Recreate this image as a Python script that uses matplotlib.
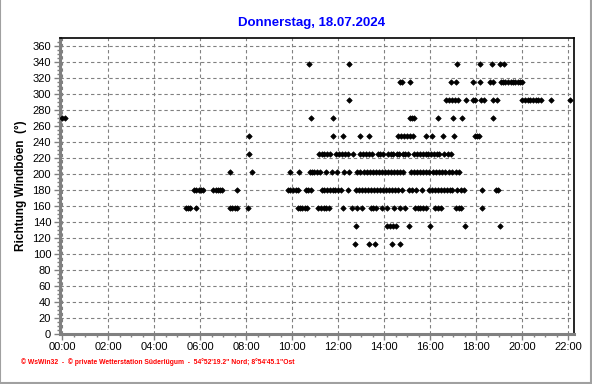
import numpy as np
import matplotlib
matplotlib.use("Agg")
from matplotlib import pyplot as plt
from matplotlib.patches import Rectangle

plt.rcParams['font.family'] = ['Liberation Sans', 'DejaVu Sans']

title = "Donnerstag, 18.07.2024"
ylabel = "Richtung Windböen  (°)"
footer = "© WsWin32  -  © private Wetterstation Süderlügum  -  54°52'19.2\" Nord; 8°54'45.1\"Ost"

x_ticks = ["00:00", "02:00", "04:00", "06:00", "08:00", "10:00",
           "12:00", "14:00", "16:00", "18:00", "20:00", "22:00"]
y_ticks = list(range(0, 361, 20))

# times of gusts per direction (degrees)
t_1125 = ["12:43", "13:19", "13:37", "14:21", "14:40"]
t_1350 = ["12:45", "14:08", "14:15", "14:22", "14:30", "15:05", "15:59", "17:30", "19:03"]
t_1575 = ["05:23", "05:28", "05:33", "05:48", "07:17", "07:23", "07:30", "07:37", "08:04",
          "10:14", "10:20", "10:26", "10:32", "10:38", "11:08", "11:15", "11:22", "11:29", "11:36",
          "12:12", "12:36", "12:49", "13:01", "13:25", "13:31", "13:38", "13:54", "14:08",
          "14:25", "14:40", "14:53", "15:20", "15:27", "15:34", "15:41", "15:48",
          "16:12", "16:20", "16:27", "17:08", "17:14", "17:19", "18:16"]
t_1800 = ["05:44", "05:50", "05:56", "06:02", "06:08", "06:34", "06:40", "06:46", "06:52", "06:56",
          "07:35", "09:48", "09:55", "10:02", "10:09", "10:14", "10:35", "10:42", "10:48",
          "11:17", "11:24", "11:31", "11:38", "11:45", "11:52", "12:00", "12:07", "12:25",
          "12:45", "12:53", "13:01", "13:09", "13:17", "13:25", "13:33", "13:41", "13:49",
          "13:57", "14:05", "14:13", "14:21", "14:29", "14:37", "14:45",
          "15:05", "15:12", "15:22", "15:38", "15:56", "16:04", "16:12", "16:20", "16:28",
          "16:36", "16:44", "16:52", "16:58", "17:11", "17:19", "17:27", "18:16", "18:51", "18:58"]
t_2025 = ["07:18", "08:14", "09:54", "10:17", "10:45", "10:52", "10:58", "11:05", "11:12",
          "11:27", "11:43", "11:58", "12:16", "12:29",
          "12:50", "12:58", "13:06", "13:14", "13:22", "13:30", "13:38", "13:46", "13:54",
          "14:02", "14:10", "14:18", "14:26", "14:34", "14:42", "14:50",
          "15:10", "15:18", "15:26", "15:34", "15:42", "15:50", "15:58", "16:06", "16:14",
          "16:22", "16:30", "16:38", "16:48", "16:58", "17:07", "17:16"]
t_2250 = ["08:08", "11:10", "11:17", "11:24", "11:31", "11:38", "11:55", "12:02", "12:10",
          "12:18", "12:26", "12:38", "12:57", "13:05", "13:13", "13:21", "13:27",
          "13:43", "13:50", "13:57", "14:10", "14:17", "14:24", "14:32", "14:39",
          "14:48", "14:55", "15:02", "15:18", "15:26", "15:34", "15:42", "15:48",
          "15:54", "16:02", "16:10", "16:17", "16:23", "16:37", "16:45", "16:53"]
t_2475 = ["08:08", "11:45", "12:12", "12:58", "13:20", "14:37", "14:44", "14:52", "15:00",
          "15:08", "15:14", "15:50", "16:05", "16:32", "17:02", "17:58", "18:03", "18:08"]
t_2700 = ["00:00", "00:06", "10:48", "11:47", "15:06", "15:12", "15:18", "16:19", "17:00",
          "17:22", "18:43"]
t_2925 = ["12:29", "16:41", "16:49", "16:57", "17:05", "17:12", "17:33", "17:51", "17:58",
          "18:12", "18:20", "18:43", "18:55", "20:00", "20:07", "20:14", "20:21", "20:28",
          "20:35", "20:42", "20:50", "21:15", "22:04"]
t_3150 = ["14:40", "14:46", "15:07", "16:55", "17:08", "17:52", "18:10", "18:36", "18:43",
          "19:04", "19:10", "19:16", "19:22", "19:30", "19:36", "19:42", "19:48", "19:54", "20:00"]
t_3375 = ["10:44", "12:28", "17:09", "18:10", "18:41", "19:01", "19:12"]

directions = [112.5, 135.0, 157.5, 180.0, 202.5, 225.0, 247.5, 270.0, 292.5, 315.0, 337.5]
times = [t_1125, t_1350, t_1575, t_1800, t_2025, t_2250, t_2475, t_2700, t_2925, t_3150, t_3375]


def to_hours(s):
    h, m = s.split(":")
    return int(h) + int(m) / 60.0


fig = plt.figure(figsize=(5.92, 3.84), dpi=100)
ax = fig.add_axes([59.5 / 592, (384 - 333.5) / 384, (574 - 59.5) / 592, (333.5 - 38) / 384])

for d, ts in zip(directions, times):
    hrs = [to_hours(s) for s in ts]
    ax.plot(hrs, [d] * len(hrs), linestyle='none', marker='D', ms=2.8,
            color='black', mec='black', mew=0.5, zorder=3)

ax.set_xlim(-0.12, 22.25)
ax.set_ylim(0, 370)
ax.set_xticks(np.arange(0, 23, 2))
ax.set_xticklabels(x_ticks, fontsize=8)
ax.set_xticks(np.arange(0, 22.3, 0.5), minor=True)
ax.set_yticks(y_ticks)
ax.set_yticklabels([str(v) for v in y_ticks], fontsize=8)
ax.set_yticks(np.arange(0, 366, 5), minor=True)

ax.grid(True, which='major', color='#808080', linestyle=(0, (3, 2.5)), linewidth=0.8)
ax.set_axisbelow(True)

for side in ['left', 'bottom']:
    ax.spines[side].set_color('#808080')
    ax.spines[side].set_linewidth(2.2)
for side in ['top', 'right']:
    ax.spines[side].set_color('black')
    ax.spines[side].set_linewidth(1.2)

ax.tick_params(which='major', length=4, width=1, color='#808080', pad=2, labelcolor='black')
ax.tick_params(which='minor', length=2.5, width=1, color='#808080')

ax.set_ylabel(ylabel, fontsize=8.5, fontweight='bold', labelpad=4)
fig.text(0.527, 1 - 23 / 384, title, color='#0000ff', fontsize=9.5, fontweight='bold',
         ha='center', va='center')
fig.text(21 / 592, 1 - 362 / 384, footer, color='#ff0000', fontsize=4.85, fontweight='bold',
         ha='left', va='center')

# grey frame at the right and bottom of the picture
fig.add_artist(Rectangle((0, 1.5 / 384), 1 - 1.5 / 592, 1.2, transform=fig.transFigure,
                         fill=False, edgecolor='#a0a0a0', linewidth=1.5))

fig.savefig("out.png", dpi=100)
